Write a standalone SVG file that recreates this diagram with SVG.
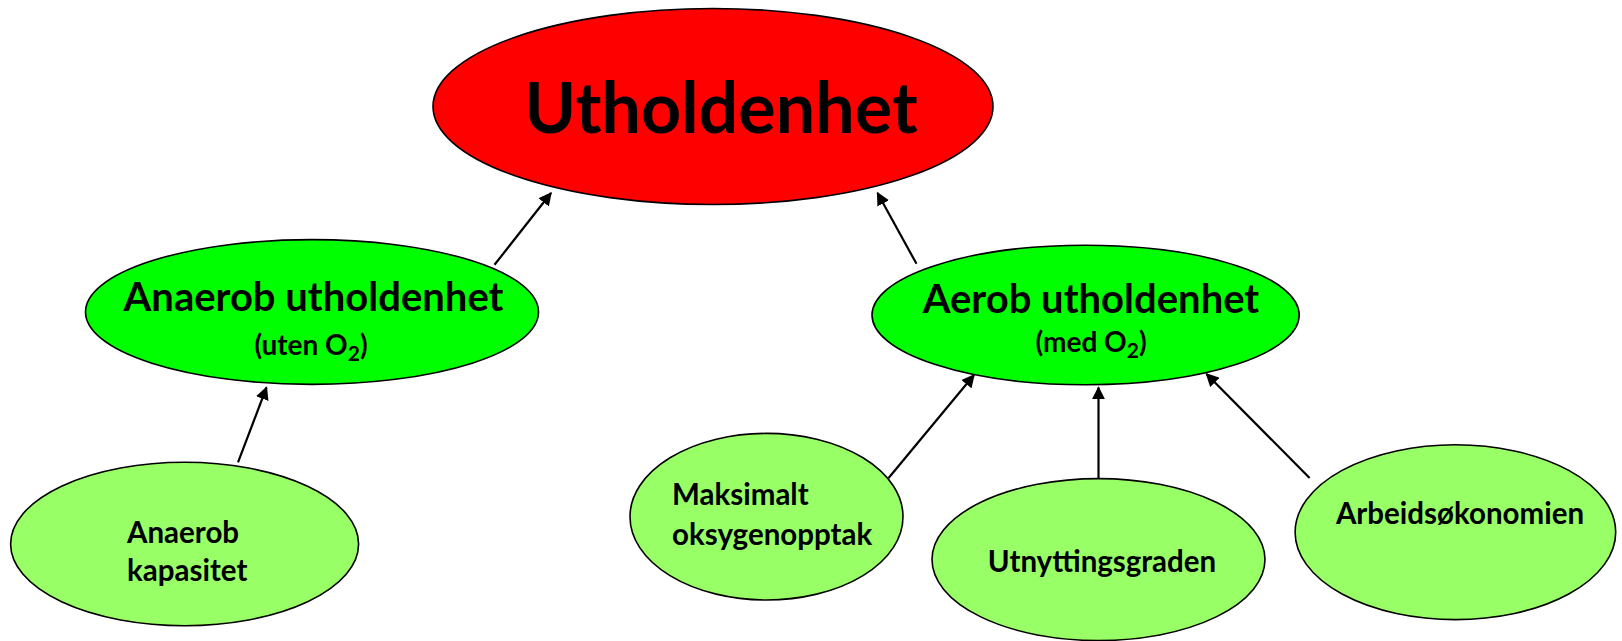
<svg xmlns="http://www.w3.org/2000/svg" width="1622" height="641" viewBox="0 0 1622 641">
<style>
.n{stroke:#000;stroke-width:1.6}
.red{fill:#ff0000}
.grn{fill:#00ff00}
.lg{fill:#99ff66}
text{font-family:Lato,"Open Sans","Liberation Sans",sans-serif;font-weight:bold;fill:#000}
.c{text-anchor:middle}
.s{font-size:29.5px}
.e{stroke:#000;stroke-width:2.2;fill:none;marker-end:url(#ah)}
</style>
<defs>
<marker id="ah" viewBox="0 0 10 10" refX="9" refY="5" markerWidth="6" markerHeight="6" markerUnits="strokeWidth" orient="auto">
<path d="M0,0 L10,5 L0,10 z" fill="#000"/>
</marker>
</defs>
<rect width="1622" height="641" fill="#fff"/>
<g id="connectors">
<line class="e" x1="494.5" y1="264.8" x2="551" y2="193"/>
<line class="e" x1="916.5" y1="263.8" x2="877.5" y2="193"/>
<line class="e" x1="238" y1="462.4" x2="266.5" y2="387.5"/>
<line class="e" x1="888.6" y1="478" x2="974" y2="375"/>
<line class="e" x1="1098.5" y1="478" x2="1098.5" y2="387.5"/>
<line class="e" x1="1309.6" y1="478" x2="1206.5" y2="374"/>
</g>
<g id="utholdenhet">
<ellipse class="n red" cx="713" cy="106.5" rx="280" ry="98"/>
<text class="c" x="721" y="133" font-size="70">Utholdenhet</text>
</g>
<g id="anaerob-utholdenhet">
<ellipse class="n grn" cx="312" cy="312" rx="226.5" ry="72.4"/>
<text class="c" x="313.5" y="311" font-size="40">Anaerob utholdenhet</text>
<text class="c" x="311" y="355" font-size="28">(uten O<tspan font-size="21" dy="6">2</tspan><tspan dy="-6">)</tspan></text>
</g>
<g id="aerob-utholdenhet">
<ellipse class="n grn" cx="1085.6" cy="315" rx="213.6" ry="69.8"/>
<text class="c" x="1091" y="313" font-size="40">Aerob utholdenhet</text>
<text class="c" x="1091" y="352" font-size="28">(med O<tspan font-size="21" dy="6">2</tspan><tspan dy="-6">)</tspan></text>
</g>
<g id="anaerob-kapasitet">
<ellipse class="n lg" cx="184.6" cy="544" rx="174" ry="81.7"/>
<text class="s" x="127" y="543">Anaerob</text>
<text class="s" x="127" y="581">kapasitet</text>
</g>
<g id="maksimalt-oksygenopptak">
<ellipse class="n lg" cx="766.5" cy="516.7" rx="136.5" ry="83.3"/>
<text class="s" x="672" y="505">Maksimalt</text>
<text class="s" x="672" y="545">oksygenopptak</text>
</g>
<g id="utnyttingsgraden">
<ellipse class="n lg" cx="1098.5" cy="559.6" rx="166.5" ry="81"/>
<text class="c s" x="1102" y="572">Utnyttingsgraden</text>
</g>
<g id="arbeidsokonomien">
<ellipse class="n lg" cx="1455.4" cy="532.2" rx="160.3" ry="87.4"/>
<text class="c s" x="1460" y="524">Arbeidsøkonomien</text>
</g>
</svg>
